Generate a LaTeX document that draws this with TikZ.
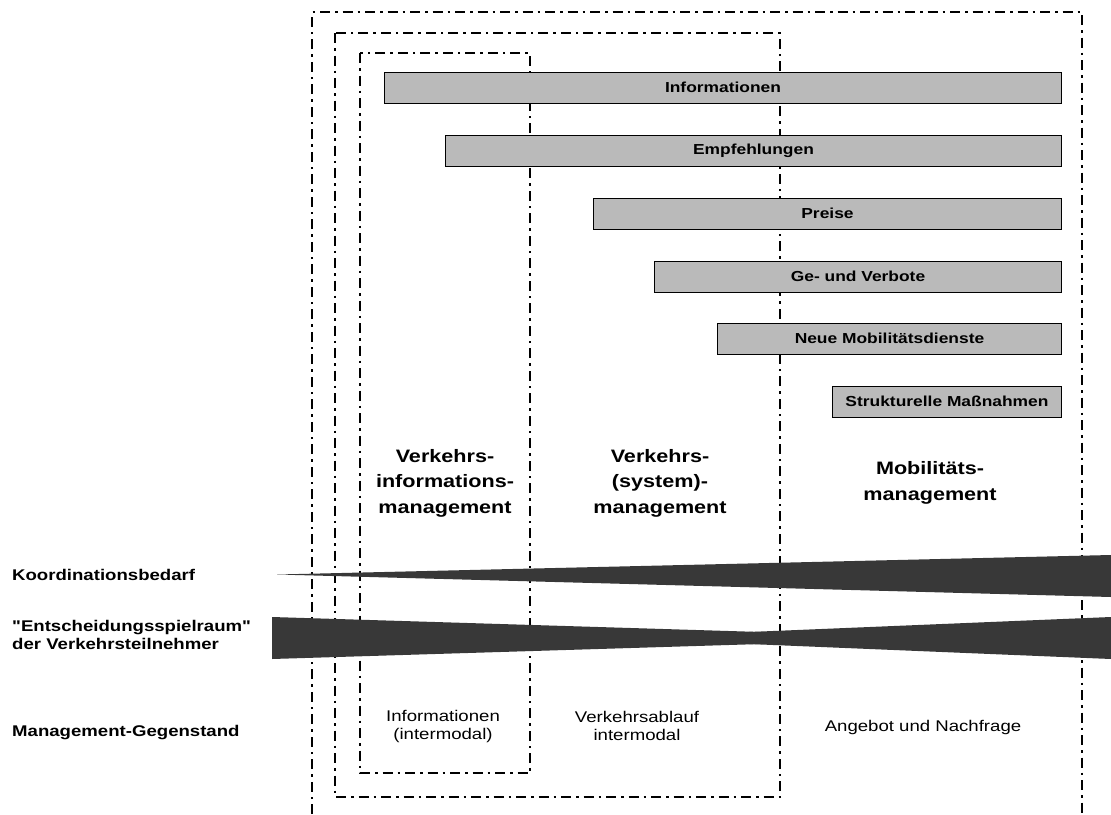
\documentclass[tikz,border=0pt]{standalone}
\usepackage{fontspec}
\setmainfont{Liberation Sans}[FakeStretch=1.2]
\newfontfamily\straightquote{Liberation Sans}[FakeStretch=1.2]
\usetikzlibrary{positioning}

\begin{document}
\begin{tikzpicture}[x=1pt, y=-1pt,
    frame/.style={line width=2.2pt, dash pattern=on 10pt off 5pt on 2.5pt off 5pt},
    bar/.style={draw, line width=1pt, fill=black!27, anchor=east, minimum height=31pt, inner sep=0pt, font=\fontsize{14.5}{16}\selectfont\bfseries},
    title/.style={align=center, font=\fontsize{18}{25.5}\selectfont\bfseries},
    rowlabel/.style={anchor=west, align=left, inner sep=0pt, font=\fontsize{15.5}{17.5}\selectfont\bfseries},
    object/.style={align=center, font=\fontsize{15.5}{18}\selectfont},
    wedge/.style={fill=black!78}]
    \useasboundingbox (0,0) rectangle (1111,814);
    \draw[frame] (312,814) -- (312,12) -- (1082,12) -- (1082,814);
    \draw[frame] (335,33) rectangle (780,797);
    \draw[frame] (360,53) rectangle (530,773);
    \node[bar, minimum width=677pt] (info) at (1062,87.5) {Informationen};
    \node[bar, minimum width=616pt] (empf) at (1062,150.5) {Empfehlungen};
    \node[bar, minimum width=468pt] (preise) at (1062,213.5) {Preise};
    \node[bar, minimum width=407pt] (gebote) at (1062,276.5) {Ge- und Verbote};
    \node[bar, minimum width=344pt] (dienste) at (1062,338.5) {Neue Mobilitätsdienste};
    \node[bar, minimum width=229pt] (struktur) at (1062,401.5) {Strukturelle Maßnahmen};
    \node[title] (vim) at (445,483) {Verkehrs-\\informations-\\management};
    \node[title] (vsm) at (660,483) {Verkehrs-\\(system)-\\management};
    \node[title] (mm) at (930,483) {Mobilitäts-\\management};
    \node[rowlabel] (koord) at (12,575) {Koordinationsbedarf};
    \node[rowlabel] (spiel) at (12,635) {{\straightquote"}Entscheidungsspielraum{\straightquote"}\\der Verkehrsteilnehmer};
    \node[rowlabel] (gegen) at (12,733) {Management-Gegenstand};
    \fill[wedge] (277,574.5) -- (1111,555) -- (1111,597) -- cycle;
    \fill[wedge] (272,617) -- (272,659) -- (957,638) -- cycle;
    \fill[wedge] (1111,617) -- (1111,659) -- (604,638) -- cycle;
    \node[object] (obinfo) at (443,726) {Informationen\\(intermodal)};
    \node[object] (obablauf) at (637,726) {Verkehrsablauf\\intermodal};
    \node[object] (obangebot) at (923,727) {Angebot und Nachfrage};
\end{tikzpicture}
\end{document}
